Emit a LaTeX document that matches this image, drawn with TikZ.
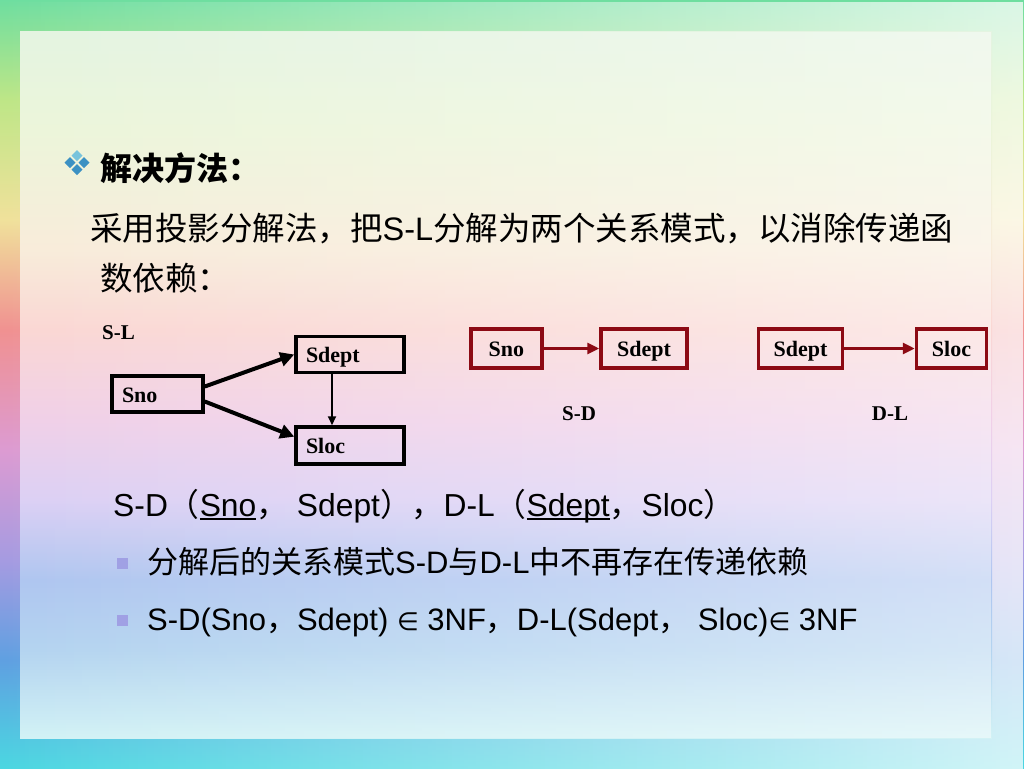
\documentclass[tikz,border=0pt]{standalone}
\usepackage{fontspec}
\setmainfont{Liberation Sans}
\newfontfamily\cjk{Noto Sans CJK SC}
\newfontfamily\tms{Liberation Serif}
\newfontfamily\dejavu{DejaVu Sans}
\usetikzlibrary{arrows.meta,fadings}
\newcommand\zhtext[1]{{\cjk #1}}
\newcommand\elem{{\dejavu\fontsize{25}{30}\selectfont ∈}}
\newcommand\myul[1]{{\setbox0\hbox{#1}\rlap{\rule[-3.5pt]{\wd0}{1.6pt}}\box0}}
% outer background colours
\definecolor{o0}{RGB}{110,222,160}
\definecolor{o1}{RGB}{190,230,135}
\definecolor{o2}{RGB}{240,225,155}
\definecolor{o3}{RGB}{240,145,145}
\definecolor{o4}{RGB}{220,155,210}
\definecolor{o5}{RGB}{165,155,225}
\definecolor{o6}{RGB}{95,160,225}
\definecolor{o7}{RGB}{75,215,225}
% panel colours
\definecolor{p0}{RGB}{228,244,225}
\definecolor{p1}{RGB}{236,245,218}
\definecolor{p2}{RGB}{248,236,218}
\definecolor{p3}{RGB}{250,215,212}
\definecolor{p4}{RGB}{240,208,232}
\definecolor{p5}{RGB}{220,208,244}
\definecolor{p6}{RGB}{175,198,240}
\definecolor{p7}{RGB}{180,212,240}
\definecolor{p8}{RGB}{210,242,245}
\definecolor{boxred}{RGB}{140,10,20}
\definecolor{bulletblue}{RGB}{60,145,195}
\definecolor{bulletlight}{RGB}{120,195,220}
\definecolor{sqbullet}{RGB}{160,160,228}
\pgfdeclareverticalshading{outershade}{100bp}{color(0bp)=(o7); color(25bp)=(o7); color(32bp)=(o6); color(38.5bp)=(o5); color(45.7bp)=(o4); color(53.5bp)=(o3); color(60.7bp)=(o2); color(68.5bp)=(o1); color(75bp)=(o0); color(100bp)=(o0)}
\pgfdeclareverticalshading{panelshade}{100bp}{color(0bp)=(p8); color(25bp)=(p8); color(31.2bp)=(p7); color(36.2bp)=(p6); color(41.9bp)=(p5); color(47.5bp)=(p4); color(53.9bp)=(p3); color(59.6bp)=(p2); color(68bp)=(p1); color(75bp)=(p0); color(100bp)=(p0)}
\tikzfading[name=fadeinright, left color=transparent!100, right color=transparent!0]
\begin{document}
\begin{tikzpicture}[x=1pt,y=-1pt,
  bbox/.style={draw=black, line width=3.5pt, minimum height=36, inner xsep=10, inner ysep=0,
     align=left, font=\tms\bfseries\fontsize{22}{24}\selectfont, text height=20, text depth=4},
  rbox/.style={draw=boxred, line width=3.5pt, minimum height=39, inner xsep=0, inner ysep=0,
     align=center, font=\tms\bfseries\fontsize{22}{24}\selectfont, text height=20, text depth=4},
  lbl/.style={font=\tms\bfseries\fontsize{21}{24}\selectfont, inner sep=0},
  blk/.style={line width=4pt, -{Triangle[length=14pt,width=14pt]}},
  thinblk/.style={line width=2pt, -{Triangle[length=9pt,width=8pt]}},
  redarr/.style={draw=boxred, line width=3pt, -{Triangle[length=12pt,width=11pt]}},
  body/.style={anchor=base west, inner sep=0, font=\fontsize{31}{36}\selectfont},
  sq/.style={fill=sqbullet, draw=none, minimum size=11, inner sep=0}
]
\useasboundingbox (0,0) rectangle (1024,768);
% background
\shade[shading=outershade] (0,0) rectangle (1024,768);
\fill[white, opacity=0.75, path fading=fadeinright] (0,0) rectangle (1024,768);
\shade[shading=panelshade] (20,32) rectangle (992,738);
\fill[white, opacity=0.45, path fading=fadeinright] (20,32) rectangle (992,738);
% header bullet (four diamonds)
\fill[bulletlight] (77,150) -- (82.5,155.5) -- (77,161) -- (71.5,155.5) -- cycle;
\fill[bulletblue] (70,157) -- (75.5,162.5) -- (70,168) -- (64.5,162.5) -- cycle;
\fill[bulletblue] (84,157) -- (89.5,162.5) -- (84,168) -- (78.5,162.5) -- cycle;
\fill[bulletblue] (77,164) -- (82.5,169.5) -- (77,175) -- (71.5,169.5) -- cycle;
% texts
\node[body, font=\cjk\bfseries\fontsize{32}{36}\selectfont] (head) at (100,180) {解决方法：};
\node[body, font=\fontsize{32.5}{36}\selectfont] (l1) at (90,240) {\zhtext{采用投影分解法，把}S-L\zhtext{分解为两个关系模式，以消除传递函}};
\node[body, font=\fontsize{32.5}{36}\selectfont] (l2) at (100,290) {\zhtext{数依赖：}};
% S-L diagram
\node[lbl, anchor=base west] (sl) at (102,339) {S-L};
\node[bbox, minimum width=91, text width=71] (sno) at (157.5,394) {Sno};
\node[bbox, minimum width=108, text width=88] (sdept) at (350,354.5) {Sdept};
\node[bbox, minimum width=108, text width=88, minimum height=37] (sloc) at (350,445.5) {Sloc};
\draw[blk] (sno.9) -- (sdept.west);
\draw[blk] (sno.-9) -- (sloc.171);
\draw[thinblk] ([xshift=-18pt]sdept.south) -- ([xshift=-18pt]sloc.north);
% S-D
\node[rbox, minimum width=71] (sdno) at (506.3,348.5) {Sno};
\node[rbox, minimum width=86] (sddept) at (644,348.5) {Sdept};
\draw[redarr] (sdno.east) -- (sddept.west);
\node[lbl, anchor=base] (sdl) at (579,420) {S-D};
% D-L
\node[rbox, minimum width=84] (dldept) at (800.5,348.5) {Sdept};
\node[rbox, minimum width=70] (dlloc) at (951.5,348.5) {Sloc};
\draw[redarr] (dldept.east) -- (dlloc.west);
\node[lbl, anchor=base] (dll) at (890,420) {D-L};
% lower text
\node[body, font=\fontsize{31.8}{36}\selectfont] (l3) at (113,516) {S-D\zhtext{（}\myul{Sno}\zhtext{，} Sdept\zhtext{），}D-L\zhtext{（}\myul{Sdept}\zhtext{，}Sloc\zhtext{）}};
\node[sq] (b1) at (122,563) {};
\node[body] (l4) at (147,573) {\zhtext{分解后的关系模式}S-D\zhtext{与}D-L\zhtext{中不再存在传递依赖}};
\node[sq] (b2) at (122,620) {};
\node[body] (l5) at (147,630) {S-D(Sno\zhtext{，}Sdept) \elem{} 3NF\zhtext{，}D-L(Sdept\zhtext{，} Sloc)\elem{} 3NF};
\end{tikzpicture}
\end{document}
